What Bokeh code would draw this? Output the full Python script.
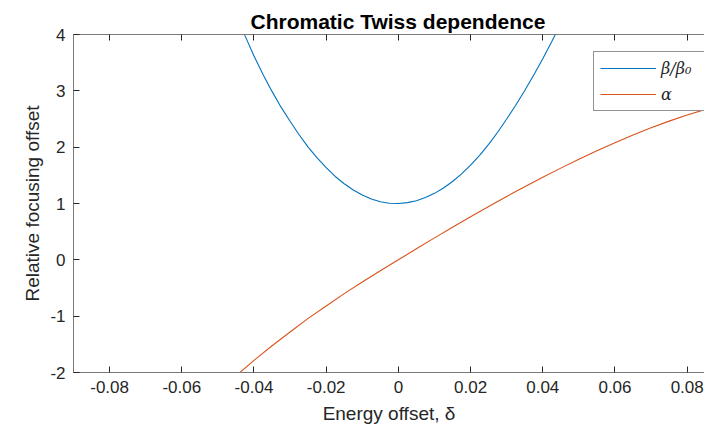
from bokeh.plotting import figure
from bokeh.models import Range1d, LinearAxis, Legend, LegendItem, FixedTicker, ColumnDataSource
from bokeh.embed import file_html
from bokeh.resources import INLINE

# Relative beta function versus energy offset
delta_beta = [-0.045, -0.0425, -0.04, -0.0375, -0.035, -0.0325, -0.03, -0.0275,
              -0.025, -0.0225, -0.02, -0.0175, -0.015, -0.0125, -0.01, -0.0075,
              -0.005, -0.0025, 0.0, 0.0025, 0.005, 0.0075, 0.01, 0.0125, 0.015,
              0.0175, 0.02, 0.0225, 0.025, 0.0275, 0.03, 0.0325, 0.035, 0.0375,
              0.04, 0.0425, 0.045]
beta_ratio = [4.36, 3.98, 3.62, 3.29, 2.99, 2.71, 2.46, 2.22,
              2.00, 1.81, 1.635, 1.48, 1.35, 1.24, 1.15, 1.08,
              1.03, 1.005, 1.0, 1.015, 1.05, 1.105, 1.18, 1.275, 1.39,
              1.525, 1.68, 1.855, 2.05, 2.265, 2.50, 2.745, 3.005, 3.28,
              3.57, 3.875, 4.195]

# Alpha function versus energy offset
delta_alpha = [-0.045, -0.04, -0.035, -0.03, -0.025, -0.02, -0.015, -0.01, -0.005,
               0.0, 0.005, 0.01, 0.015, 0.02, 0.025, 0.03, 0.035, 0.04, 0.045,
               0.05, 0.055, 0.06, 0.065, 0.07, 0.075, 0.08, 0.085, 0.09]
alpha = [-2.06, -1.785, -1.525, -1.28, -1.04, -0.82, -0.60, -0.395, -0.195,
         0.0, 0.197, 0.39, 0.58, 0.765, 0.948, 1.125, 1.298, 1.465, 1.628,
         1.785, 1.936, 2.08, 2.217, 2.345, 2.462, 2.57, 2.668, 2.76]

x_ticks = [-0.08, -0.06, -0.04, -0.02, 0.0, 0.02, 0.04, 0.06, 0.08]
y_ticks = [-2, -1, 0, 1, 2, 3, 4]

FONT = "Liberation Sans"
AX_COLOR = "#262626"
BLUE = "#0072BD"
ORANGE = "#D95319"

p = figure(width=704, height=430,
           x_range=Range1d(-0.09, 0.0848), y_range=Range1d(-2, 4),
           output_backend="svg", toolbar_location=None,
           min_border_left=73, min_border_right=0,
           min_border_top=34, min_border_bottom=58,
           x_axis_label="Energy offset, δ",
           y_axis_label="Relative focusing offset")

p.grid.visible = False
p.outline_line_color = None
p.background_fill_color = "white"
p.border_fill_color = "white"

# Title
p.title.text = "Chromatic Twiss dependence"
p.title.text_font = FONT
p.title.text_font_size = "21px"
p.title.text_font_style = "bold"
p.title.text_color = "black"
p.title.align = "left"
p.title.offset = 177
p.title.standoff = 3

# Axes styling, ticks pointing inward
for ax in (p.xaxis[0], p.yaxis[0]):
    ax.major_tick_in = 6
    ax.major_tick_out = 0
    ax.minor_tick_line_color = None
    ax.axis_line_color = "#7a7a7a"
    ax.major_tick_line_color = AX_COLOR
    ax.major_label_text_font = FONT
    ax.major_label_text_font_size = "17px"
    ax.major_label_text_color = AX_COLOR
    ax.axis_label_text_font = FONT
    ax.axis_label_text_font_size = "19px"
    ax.axis_label_text_font_style = "normal"
    ax.axis_label_text_color = AX_COLOR

p.xaxis[0].ticker = FixedTicker(ticks=x_ticks)
p.yaxis[0].ticker = FixedTicker(ticks=y_ticks)
p.xaxis[0].major_label_overrides = {t: f"{t:g}" for t in x_ticks}
p.yaxis[0].major_label_overrides = {t: f"{t:g}" for t in y_ticks}
p.xaxis[0].major_label_standoff = 8
p.xaxis[0].axis_label_standoff = 7
p.yaxis[0].major_label_standoff = 8
p.yaxis[0].axis_label_standoff = 4

# Box line on top with inward ticks, labels hidden
top = LinearAxis(ticker=FixedTicker(ticks=x_ticks))
top.major_tick_in = 6
top.major_tick_out = 0
top.minor_tick_line_color = None
top.major_label_text_font_size = "1px"
top.major_label_text_color = None
top.major_label_standoff = 0
top.axis_line_color = "#7a7a7a"
top.major_tick_line_color = AX_COLOR
p.add_layout(top, "above")

beta_src = ColumnDataSource(dict(x=delta_beta, y=beta_ratio))
alpha_src = ColumnDataSource(dict(x=delta_alpha, y=alpha))

r_beta = p.line("x", "y", source=beta_src, line_color=BLUE, line_width=1.1)
r_alpha = p.line("x", "y", source=alpha_src, line_color=ORANGE, line_width=1.1)

legend = Legend(items=[LegendItem(label="β/β₀", renderers=[r_beta]),
                       LegendItem(label="α", renderers=[r_alpha])],
                location=(520, 261))
legend.label_text_font = "DejaVu Serif"
legend.label_text_font_style = "italic"
legend.label_text_font_size = "16px"
legend.label_text_color = AX_COLOR
legend.glyph_width = 56
legend.glyph_height = 20
legend.label_height = 20
legend.label_width = 37
legend.label_standoff = 5
legend.spacing = 6
legend.padding = 6
legend.margin = 0
legend.border_line_color = "#262626"
legend.border_line_width = 1
legend.background_fill_color = "white"
legend.background_fill_alpha = 1.0
p.add_layout(legend, "center")

open("out.html", "w").write(file_html(p, INLINE))
